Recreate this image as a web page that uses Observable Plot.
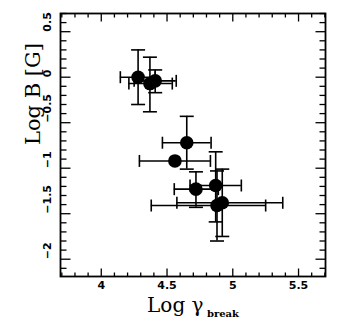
<!DOCTYPE html>
<html><head><meta charset="utf-8">
<script src="https://cdn.jsdelivr.net/npm/d3@7"></script>
<script src="https://cdn.jsdelivr.net/npm/@observablehq/plot@0.6"></script>
<style>html,body{margin:0;padding:0;background:#fff;}</style>
</head><body>
<script>
// Data
const logGamma = [4.28, 4.37, 4.41, 4.65, 4.56, 4.72, 4.87, 4.88, 4.92];
const logB     = [0.00, -0.07, -0.04, -0.72, -0.92, -1.23, -1.19, -1.41, -1.38];
const gammaLo  = [4.145, 4.21, 4.25, 4.465, 4.29, 4.555, 4.675, 4.38, 4.575];
const gammaHi  = [4.41, 4.54, 4.57, 4.835, 4.83, 4.89, 5.065, 5.25, 5.38];
const bLo      = [-0.30, -0.38, -0.17, -1.01, -0.92, -1.43, -1.59, -1.80, -1.75];
const bHi      = [0.30, 0.22, 0.08, -0.43, -0.92, -1.04, -0.82, -1.03, -1.01];

const xTicks = [4, 4.5, 5, 5.5];
const xTickLabels = ["4", "4.5", "5", "5.5"];
const yTicks = [-2, -1.5, -1, -0.5, 0, 0.5];
const yTickLabels = ["\u22122", "\u22121.5", "\u22121", "\u22120.5", "0", "0.5"];
const xDomain = [3.69, 5.705];
const yDomain = [-2.19, 0.70];

const data = logGamma.map((x, i) => ({x, y: logB[i], xlo: gammaLo[i], xhi: gammaHi[i], ylo: bLo[i], yhi: bHi[i]}));
const dataV = data.filter(d => d.ylo < d.yhi);

const r2 = s => Math.sqrt(s / Math.PI);
const vCap = {draw(c, s) { const r = r2(s); c.moveTo(0, -r); c.lineTo(0, r); }};
const hCap = {draw(c, s) { const r = r2(s); c.moveTo(-r, 0); c.lineTo(r, 0); }};
const tUp = {draw(c, s) { const r = r2(s); c.moveTo(0, 0); c.lineTo(0, -r); }};
const tDown = {draw(c, s) { const r = r2(s); c.moveTo(0, 0); c.lineTo(0, r); }};
const tRight = {draw(c, s) { const r = r2(s); c.moveTo(0, 0); c.lineTo(r, 0); }};
const tLeft = {draw(c, s) { const r = r2(s); c.moveTo(0, 0); c.lineTo(-r, 0); }};

const xMinor = d3.range(37, 58).map(v => v / 10).filter(v => !xTicks.includes(v));
const yMinor = d3.range(-21, 8).map(v => v / 10).filter(v => !yTicks.includes(v));

const sw = 1.6;
const tick = (vals, axis, anchor, sym, r) => Plot.dot(vals, {[axis]: d => d, frameAnchor: anchor, symbol: sym, r, fill: "none", stroke: "black", strokeWidth: 1.3});

const chart = Plot.plot({
  width: 346, height: 330,
  marginLeft: 60, marginRight: 21, marginTop: 13, marginBottom: 54,
  x: {domain: xDomain, axis: null},
  y: {domain: yDomain, axis: null},
  style: {background: "white", color: "black"},
  marks: [
    Plot.ruleY(data, {y: "y", x1: "xlo", x2: "xhi", stroke: "black", strokeWidth: sw}),
    Plot.ruleX(dataV, {x: "x", y1: "ylo", y2: "yhi", stroke: "black", strokeWidth: sw}),
    Plot.dot(data, {x: "xlo", y: "y", symbol: vCap, r: 6, fill: "none", stroke: "black", strokeWidth: sw}),
    Plot.dot(data, {x: "xhi", y: "y", symbol: vCap, r: 6, fill: "none", stroke: "black", strokeWidth: sw}),
    Plot.dot(dataV, {x: "x", y: "ylo", symbol: hCap, r: 7, fill: "none", stroke: "black", strokeWidth: sw}),
    Plot.dot(dataV, {x: "x", y: "yhi", symbol: hCap, r: 7, fill: "none", stroke: "black", strokeWidth: sw}),
    Plot.dot(data, {x: "x", y: "y", r: 6.8, fill: "black", stroke: "none"}),
    // ticks, inward on all four sides
    tick(xMinor, "x", "bottom", tUp, 4), tick(xTicks, "x", "bottom", tUp, 8),
    tick(xMinor, "x", "top", tDown, 4), tick(xTicks, "x", "top", tDown, 8),
    tick(yMinor, "y", "left", tRight, 6), tick(yTicks, "y", "left", tRight, 10),
    tick(yMinor, "y", "right", tLeft, 6), tick(yTicks, "y", "right", tLeft, 10),
    Plot.frame({stroke: "black", strokeWidth: 1.8}),
    // tick labels
    Plot.text(xTicks, {x: d => d, text: (d, i) => xTickLabels[i], frameAnchor: "bottom", dy: 12, fontSize: 11, fontWeight: "bold", fontFamily: "DejaVu Sans", fill: "black"}),
    Plot.text(yTicks, {y: d => d, text: (d, i) => yTickLabels[i], frameAnchor: "left", rotate: -90, dx: -13, fontSize: 11, fontWeight: "bold", fontFamily: "DejaVu Sans", fill: "black"}),
    // axis titles
    Plot.text(["Log \u03b3"], {text: d => d, frameAnchor: "bottom", textAnchor: "end", dx: 10.5, dy: 35, fontSize: 20, fontFamily: "DejaVu Serif", fill: "black"}),
    Plot.text(["break"], {text: d => d, frameAnchor: "bottom", textAnchor: "start", dx: 14, dy: 40, fontSize: 10, fontWeight: "bold", fontFamily: "DejaVu Serif", fill: "black"}),
    Plot.text(["Log B [G]"], {text: d => d, frameAnchor: "left", rotate: -90, dx: -27, fontSize: 21, fontFamily: "DejaVu Serif", fill: "black"})
  ]
});
document.body.appendChild(chart);
</script>
</body></html>
